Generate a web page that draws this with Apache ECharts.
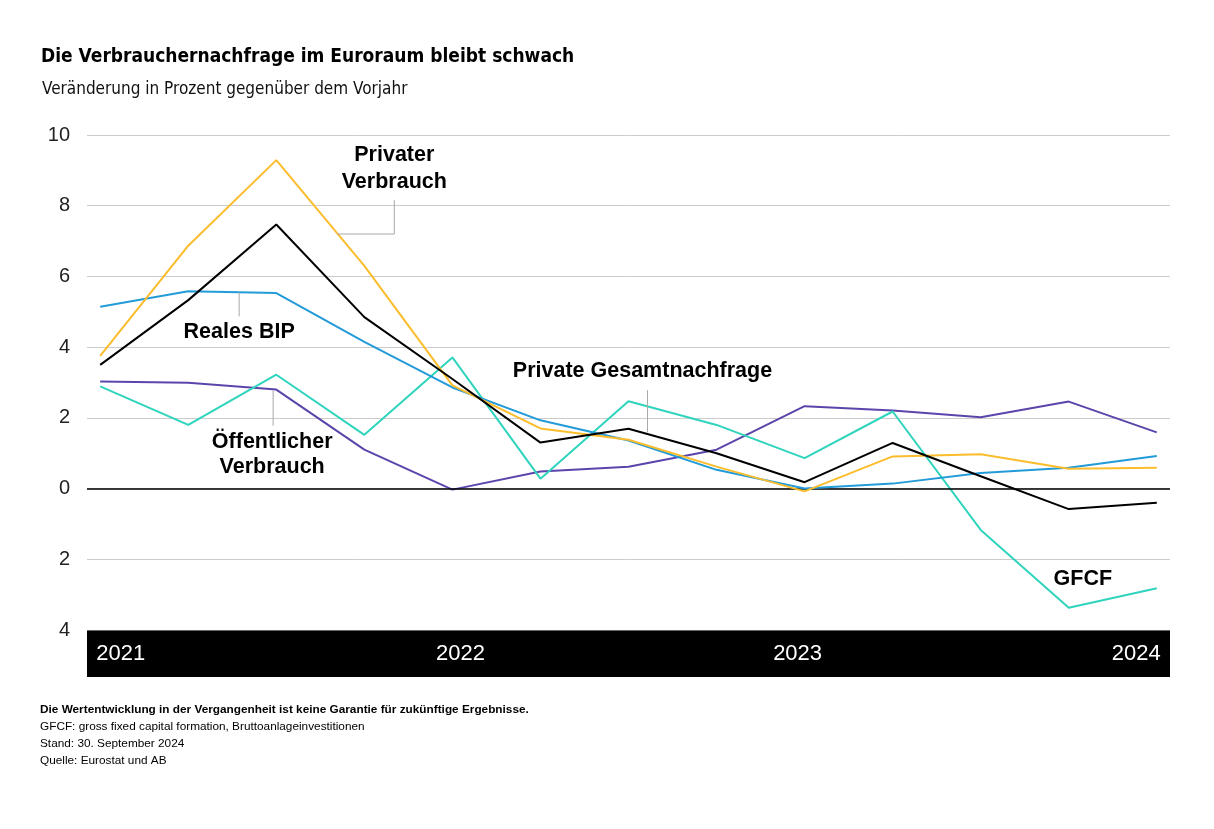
<!DOCTYPE html>
<html>
<head>
<meta charset="utf-8">
<script src="https://cdn.jsdelivr.net/npm/echarts@6/dist/echarts.min.js"></script>
<style>
html,body{margin:0;padding:0;background:#fff;}
#main{width:1214px;height:829px;}
</style>
</head>
<body>
<div id="main"></div>
<script>
// Quarterly observations (13 quarters)
const quarters = ['2021 Q1','2021 Q2','2021 Q3','2021 Q4','2022 Q1','2022 Q2','2022 Q3','2022 Q4','2023 Q1','2023 Q2','2023 Q3','2023 Q4','2024 Q1'];
const privaterVerbrauch = [3.75, 6.87, 9.29, 6.30, 2.92, 1.70, 1.38, 0.62, -0.08, 0.91, 0.97, 0.56, 0.59];
const realesBIP = [5.14, 5.58, 5.53, 4.15, 2.86, 1.93, 1.36, 0.53, 0.00, 0.14, 0.44, 0.59, 0.92];
const privateGesamtnachfrage = [3.50, 5.33, 7.47, 4.85, 3.10, 1.30, 1.69, 1.00, 0.18, 1.29, 0.35, -0.58, -0.40];
const oeffentlicherVerbrauch = [3.03, 2.99, 2.80, 1.10, -0.03, 0.48, 0.62, 1.10, 2.33, 2.21, 2.02, 2.46, 1.59];
const gfcf = [2.89, 1.80, 3.22, 1.52, 3.71, 0.28, 2.47, 1.80, 0.86, 2.18, -1.17, -3.37, -2.82];
const yearLabels = ['2021', '2022', '2023', '2024'];
const yearIndex = [0, 4, 8, 12];
const yTicks = [-4, -2, 0, 2, 4, 6, 8, 10];

const FONT = '"Liberation Sans", Arial, sans-serif';
const COND = '"DejaVu Sans Condensed", "Liberation Sans Narrow", sans-serif';

function pts(arr){ return arr.map((v,i)=>[i, v]); }

const chart = echarts.init(document.getElementById('main'));

function lineSeries(name, data, color, z){
  return {
    name, type:'line', data: pts(data), symbol:'none', z: z,
    lineStyle:{color, width:2}, itemStyle:{color}, animation:false
  };
}

const option = {
  animation:false,
  backgroundColor:'#fff',
  title:[
    {text:'Die Verbrauchernachfrage im Euroraum bleibt schwach', left:36, top:43,
     textStyle:{fontFamily:COND, fontWeight:'bold', fontSize:19, color:'#000'}},
    {text:'Veränderung in Prozent gegenüber dem Vorjahr', left:37, top:76,
     textStyle:{fontFamily:COND, fontWeight:'normal', fontSize:17, color:'#111'}}
  ],
  grid:{left:87, right:44, top:135, bottom:199, containLabel:false},
  xAxis:{type:'value', min:-0.15, max:12.15, show:false},
  yAxis:{type:'value', min:yTicks[0], max:yTicks[yTicks.length-1], interval:2,
    axisLine:{show:false}, axisTick:{show:false},
    axisLabel:{fontFamily:FONT, fontSize:20, color:'#222', margin:17,
      formatter:v=>String(Math.abs(v))},
    splitLine:{lineStyle:{color:'#cccccc', width:1}}
  },
  series:[
    Object.assign(lineSeries('Öffentlicher Verbrauch', oeffentlicherVerbrauch, '#5b45ab', 3), {
      markLine:{silent:true, symbol:'none', label:{show:false},
        lineStyle:{color:'#000', width:1.5, type:'solid'}, data:[{yAxis:0}]}
    }),
    lineSeries('GFCF', gfcf, '#2fd4bd', 4),
    lineSeries('Reales BIP', realesBIP, '#239bd9', 5),
    lineSeries('Privater Verbrauch', privaterVerbrauch, '#fbbd2c', 6),
    lineSeries('Private Gesamtnachfrage', privateGesamtnachfrage, '#000000', 7)
  ]
};
chart.setOption(option);

function P(x,y){ return chart.convertToPixel({gridIndex:0},[x,y]); }

const gridLeft = 87, gridRight = 1214-44;
const bandTop = P(0, -4)[1];
const g = [];
// black band with years
g.push({type:'rect', shape:{x:gridLeft, y:bandTop+0.5, width:gridRight-gridLeft, height:46.5},
  style:{fill:'#000'}, z:10});
yearLabels.forEach((t,i)=>{
  const px = P(yearIndex[i], 0)[0];
  let align='center', off=0;
  if(i===0){align='left'; off=-4;}
  else if(i===yearLabels.length-1){align='right'; off=4;}
  else if(i===1){off=8;}
  else {off=-7;}
  g.push({type:'text', x:px+off, y:bandTop+24, z:11,
    style:{text:t, fill:'#fff', font:'22px '+FONT, textAlign:align, textVerticalAlign:'middle'}});
});

// annotations
const ANN = 'bold 21.5px '+FONT;
function ann(text, x, y, lh){
  const p = P(x,y);
  g.push({type:'text', x:p[0], y:p[1], z:12,
    style:{text, font:ANN, fill:'#000', textAlign:'center', textVerticalAlign:'middle', lineHeight:lh||26}});
}
function leader(points){
  g.push({type:'polyline', z:9, shape:{points:points.map(q=>P(q[0],q[1]))},
    style:{stroke:'#a8a8a8', lineWidth:1, fill:null}});
}
ann('Privater\nVerbrauch', 3.34, 9.05, 27);
leader([[3.34,8.16],[3.34,7.2],[2.69,7.2]]);
ann('Reales BIP', 1.578, 4.42);
leader([[1.578,5.55],[1.578,4.87]]);
ann('Öffentlicher\nVerbrauch', 1.953, 0.95, 25);
leader([[1.964,2.78],[1.964,1.78]]);
ann('Private Gesamtnachfrage', 6.159, 3.31);
leader([[6.216,2.78],[6.216,1.59]]);
ann('GFCF', 11.16, -2.55);

// footer
const FOOT = [
  ['Die Wertentwicklung in der Vergangenheit ist keine Garantie für zukünftige Ergebnisse.', true],
  ['GFCF: gross fixed capital formation, Bruttoanlageinvestitionen', false],
  ['Stand: 30. September 2024', false],
  ['Quelle: Eurostat und AB', false]
];
FOOT.forEach((f,i)=>{
  g.push({type:'text', x:40, y:709.5+i*17, z:12,
    style:{text:f[0], font:(f[1]?'bold ':'')+'11.8px '+FONT, fill:'#000', textAlign:'left', textVerticalAlign:'middle'}});
});

chart.setOption({graphic:g});
</script>
</body>
</html>
